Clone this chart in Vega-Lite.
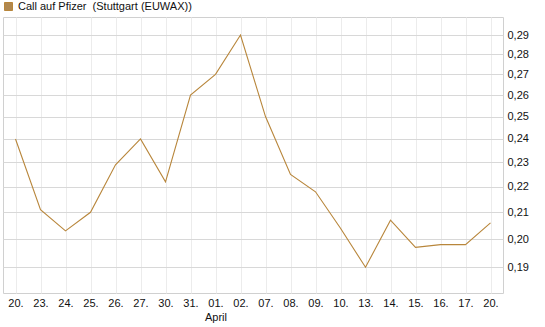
{
  "$schema": "https://vega.github.io/schema/vega-lite/v6.json",
  "width": 500,
  "height": 276,
  "autosize": "none",
  "padding": {"left": 3, "top": 17, "right": 42, "bottom": 34},
  "background": "white",
  "data": {
    "values": [
      {"d": "03-20", "v": 0.240},
      {"d": "03-23", "v": 0.211},
      {"d": "03-24", "v": 0.203},
      {"d": "03-25", "v": 0.210},
      {"d": "03-26", "v": 0.229},
      {"d": "03-27", "v": 0.240},
      {"d": "03-30", "v": 0.222},
      {"d": "03-31", "v": 0.260},
      {"d": "04-01", "v": 0.270},
      {"d": "04-02", "v": 0.290},
      {"d": "04-07", "v": 0.250},
      {"d": "04-08", "v": 0.225},
      {"d": "04-09", "v": 0.218},
      {"d": "04-10", "v": 0.204},
      {"d": "04-13", "v": 0.190},
      {"d": "04-14", "v": 0.207},
      {"d": "04-15", "v": 0.197},
      {"d": "04-16", "v": 0.198},
      {"d": "04-17", "v": 0.198},
      {"d": "04-20", "v": 0.206}
    ]
  },
  "mark": {"type": "line", "strokeWidth": 1.1, "interpolate": "linear"},
  "encoding": {
    "x": {
      "field": "d",
      "type": "ordinal",
      "scale": {"type": "point", "padding": 0.5},
      "axis": {
        "title": null,
        "labelAngle": 0,
        "labelExpr": "datum.value == '04-01' ? ['01.', 'April'] : slice(datum.value, 3) + '.'",
        "grid": true,
        "gridColor": "#ececec",
        "gridWidth": 1,
        "domain": false,
        "ticks": false,
        "labelPadding": 4,
        "labelFont": "Liberation Sans",
        "labelFontSize": 11,
        "labelColor": "#111111",
        "labelLineHeight": 14
      }
    },
    "y": {
      "field": "v",
      "type": "quantitative",
      "scale": {"type": "log", "domain": [0.1813, 0.2997], "nice": false, "zero": false},
      "axis": {
        "title": null,
        "orient": "right",
        "values": [0.19, 0.20, 0.21, 0.22, 0.23, 0.24, 0.25, 0.26, 0.27, 0.28, 0.29],
        "labelExpr": "replace(format(datum.value, '.2f'), '.', ',')",
        "grid": true,
        "gridColor": "#d8d8d8",
        "gridWidth": 1,
        "domain": false,
        "ticks": false,
        "labelPadding": 4,
        "labelFont": "Liberation Sans",
        "labelFontSize": 11,
        "labelColor": "#111111"
      }
    },
    "color": {
      "datum": "Call auf Pfizer\u00a0\u00a0(Stuttgart (EUWAX))",
      "type": "nominal",
      "scale": {"range": ["#b8863b"]},
      "legend": {
        "title": null,
        "orient": "none",
        "legendX": 0,
        "legendY": -16,
        "padding": 0,
        "symbolType": "square",
        "symbolSize": 64,
        "symbolFillColor": "#b08850",
        "symbolStrokeColor": "#4a3a28",
        "symbolStrokeWidth": 1,
        "symbolOffset": 0,
        "labelFont": "Liberation Sans",
        "labelFontSize": 11,
        "labelColor": "#111111",
        "labelOffset": 4,
        "labelLimit": 0
      }
    }
  },
  "config": {
    "view": {"stroke": "#d0d0d0", "strokeWidth": 1}
  }
}
